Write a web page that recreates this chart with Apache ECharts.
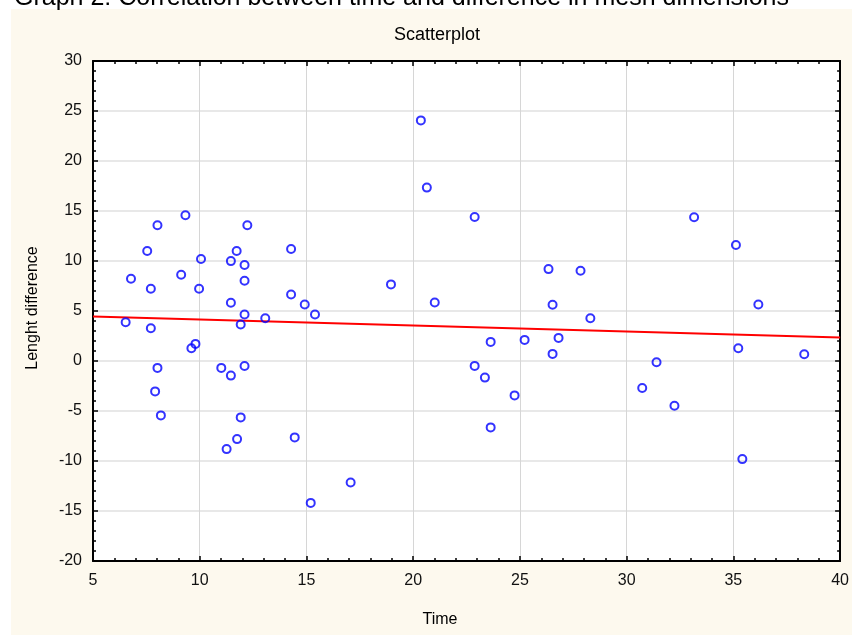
<!DOCTYPE html>
<html>
<head>
<meta charset="utf-8">
<script src="https://cdn.jsdelivr.net/npm/echarts@6/dist/echarts.min.js"></script>
<style>
  html, body { margin: 0; padding: 0; background: #ffffff; }
  #wrap { position: relative; width: 852px; height: 635px; }
  #cream { position: absolute; left: 11px; top: 9px; right: 0; bottom: 0; background: #fdf9ee; }
  #main { position: absolute; left: 0; top: 0; width: 852px; height: 635px; }
</style>
</head>
<body>
<div id="wrap">
  <div id="cream"></div>
  <div id="main"></div>
</div>
<script>
// Time (x) values
var timeVals = [6.53, 6.78, 8.02, 7.54, 7.71, 7.71, 9.33, 9.13, 10.06, 9.97,
	9.61, 9.80, 8.02, 11.01, 11.46, 12.1, 11.46, 11.73, 12.23, 12.1,
	12.1, 11.46, 12.1, 11.92, 13.07, 7.91, 8.18, 11.92, 11.75, 11.26,
	20.36, 20.64, 22.88, 14.28, 18.96, 14.28, 14.92, 15.4, 21.01, 23.63,
	25.22, 22.88, 23.36, 24.75, 23.63, 14.45, 17.07, 15.2, 26.34, 27.84,
	26.53, 28.30, 26.81, 26.53, 33.16, 35.12, 36.17, 35.23, 38.32, 31.40,
	30.73, 32.24, 35.42];
// Lenght difference (y) values
var diffVals = [3.88, 8.23, 13.57, 11.0, 7.22, 3.28, 14.57, 8.63, 10.2, 7.22,
	1.27, 1.71, -0.69, -0.69, -1.46, -0.5, 9.99, 11.0, 13.57, 9.6,
	8.03, 5.82, 4.65, 3.65, 4.28, -3.04, -5.44, -5.64, -7.81, -8.81,
	24.06, 17.34, 14.4, 11.2, 7.66, 6.65, 5.65, 4.65, 5.85, 1.91,
	2.11, -0.49, -1.66, -3.44, -6.64, -7.64, -12.15, -14.19, 9.19, 9.03,
	5.62, 4.28, 2.31, 0.71, 14.37, 11.6, 5.65, 1.27, 0.67, -0.13,
	-2.7, -4.47, -9.81];
// fitted line end points as drawn
var fitX = [5, 40];
var fitY = [4.45, 2.35];

var xTicks = [5, 10, 15, 20, 25, 30, 35, 40];
var yTicks = [-20, -15, -10, -5, 0, 5, 10, 15, 20, 25, 30];

var points = [];
for (var i = 0; i < timeVals.length; i++) {
	points.push([timeVals[i], diffVals[i]]);
}
var fitPoints = [];
for (var j = 0; j < fitX.length; j++) {
	fitPoints.push([fitX[j], fitY[j]]);
}

var font = '"Liberation Sans", Arial, sans-serif';

function axisBase(min, max, showLabel, pos) {
	return {
		type: 'value',
		position: pos,
		min: min,
		max: max,
		interval: 5,
		axisLine: {show: true, onZero: false, lineStyle: {color: '#000', width: 2}},
		axisTick: {show: true, inside: true, length: 5, lineStyle: {color: '#000', width: 1.5}},
		minorTick: {show: true, splitNumber: 5, length: 3, lineStyle: {color: '#000', width: 1.5}},
		axisLabel: {show: showLabel, color: '#111', fontSize: 16, fontFamily: font, margin: 11},
		splitLine: {show: false}
	};
}

var xMain = axisBase(xTicks[0], xTicks[xTicks.length - 1], true, 'bottom');
xMain.splitLine = {show: true, lineStyle: {color: '#d6d6d6', width: 1}};
xMain.axisLabel.margin = 12;
var xTop = axisBase(xTicks[0], xTicks[xTicks.length - 1], false, 'top');

var yMain = axisBase(yTicks[0], yTicks[yTicks.length - 1], true, 'left');
yMain.splitLine = {show: true, lineStyle: {color: '#e0e0e0', width: 1.5}};
var yRight = axisBase(yTicks[0], yTicks[yTicks.length - 1], false, 'right');

var myChart = echarts.init(document.getElementById('main'), null, {renderer: 'canvas'});

var option = {
	backgroundColor: 'transparent',
	animation: false,
	grid: {
		left: 93, top: 61, width: 748, height: 500,
		show: true, backgroundColor: '#ffffff', borderWidth: 0
	},
	xAxis: [xMain, xTop],
	yAxis: [yMain, yRight],
	graphic: [
		{
			type: 'text', x: 14, y: 11,
			style: {text: 'Graph 2: Correlation between time and difference in mesh dimensions',
				font: '25px ' + font, fill: '#000', verticalAlign: 'bottom'}
		},
		{
			type: 'text', x: 437, y: 35,
			style: {text: 'Scatterplot', font: '18px ' + font, fill: '#000',
				align: 'center', verticalAlign: 'middle'}
		},
		{
			type: 'text', x: 440, y: 620,
			style: {text: 'Time', font: '16px ' + font, fill: '#000',
				align: 'center', verticalAlign: 'middle'}
		},
		{
			type: 'text', x: 33, y: 308, rotation: Math.PI / 2,
			style: {text: 'Lenght difference', font: '16px ' + font, fill: '#000',
				align: 'center', verticalAlign: 'middle'}
		}
	],
	series: [
		{
			name: 'fit',
			type: 'line',
			data: fitPoints,
			symbol: 'none',
			lineStyle: {color: '#ff0000', width: 2},
			z: 3
		},
		{
			name: 'points',
			type: 'scatter',
			data: points,
			symbol: 'circle',
			symbolSize: 8,
			itemStyle: {color: 'rgba(255,255,255,0)', borderColor: '#0000ff', borderWidth: 2},
			z: 4
		}
	]
};

myChart.setOption(option);
</script>
</body>
</html>
